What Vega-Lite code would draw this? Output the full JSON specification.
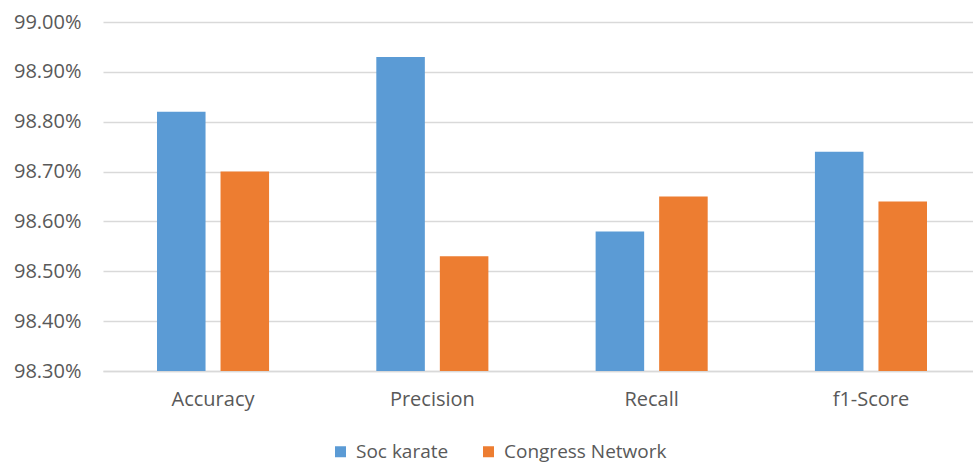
{
  "$schema": "https://vega.github.io/schema/vega-lite/v6.json",
  "autosize": "none",
  "width": 870,
  "height": 349,
  "padding": {"left": 103, "top": 22, "right": 0, "bottom": 95},
  "background": "white",
  "config": {
    "view": {"stroke": null},
    "font": "Open Sans",
    "axis": {"labelFont": "Open Sans", "labelColor": "#595959", "labelFontSize": 20},
    "legend": {"labelFont": "Open Sans", "labelColor": "#595959", "labelFontSize": 19, "labelLimit": 400}
  },
  "data": {
    "values": [
      {"metric": "Accuracy", "dataset": "Soc karate", "score": 0.9882},
      {"metric": "Accuracy", "dataset": "Congress Network", "score": 0.9870},
      {"metric": "Precision", "dataset": "Soc karate", "score": 0.9893},
      {"metric": "Precision", "dataset": "Congress Network", "score": 0.9853},
      {"metric": "Recall", "dataset": "Soc karate", "score": 0.9858},
      {"metric": "Recall", "dataset": "Congress Network", "score": 0.9865},
      {"metric": "f1-Score", "dataset": "Soc karate", "score": 0.9874},
      {"metric": "f1-Score", "dataset": "Congress Network", "score": 0.9864}
    ]
  },
  "mark": {"type": "bar"},
  "encoding": {
    "x": {
      "field": "metric",
      "type": "nominal",
      "sort": ["Accuracy", "Precision", "Recall", "f1-Score"],
      "scale": {"paddingInner": 0.489, "paddingOuter": 0.228, "align": 0.54},
      "axis": {
        "title": null,
        "labelAngle": 0,
        "ticks": false,
        "labelPadding": 18,
        "domainColor": "#d9d9d9",
        "domainWidth": 1.5
      }
    },
    "xOffset": {
      "field": "dataset",
      "type": "nominal",
      "sort": ["Soc karate", "Congress Network"],
      "scale": {"paddingInner": 0.236, "paddingOuter": 0}
    },
    "y": {
      "field": "score",
      "type": "quantitative",
      "scale": {"domain": [0.983, 0.99], "zero": false, "nice": false},
      "axis": {
        "title": null,
        "format": ".2%",
        "values": [0.983, 0.984, 0.985, 0.986, 0.987, 0.988, 0.989, 0.99],
        "domain": false,
        "ticks": false,
        "labelPadding": 22,
        "gridColor": "#d9d9d9",
        "gridWidth": 1.5
      }
    },
    "y2": {"datum": 0.983},
    "color": {
      "field": "dataset",
      "type": "nominal",
      "sort": ["Soc karate", "Congress Network"],
      "scale": {"domain": ["Soc karate", "Congress Network"], "range": ["#5b9bd5", "#ed7d31"]},
      "legend": {
        "title": null,
        "orient": "none",
        "legendX": 228,
        "legendY": 420,
        "direction": "horizontal",
        "symbolType": "square",
        "symbolSize": 121,
        "symbolStrokeWidth": 0,
        "symbolOpacity": 1,
        "labelOffset": 6,
        "columnPadding": 30
      }
    }
  }
}
